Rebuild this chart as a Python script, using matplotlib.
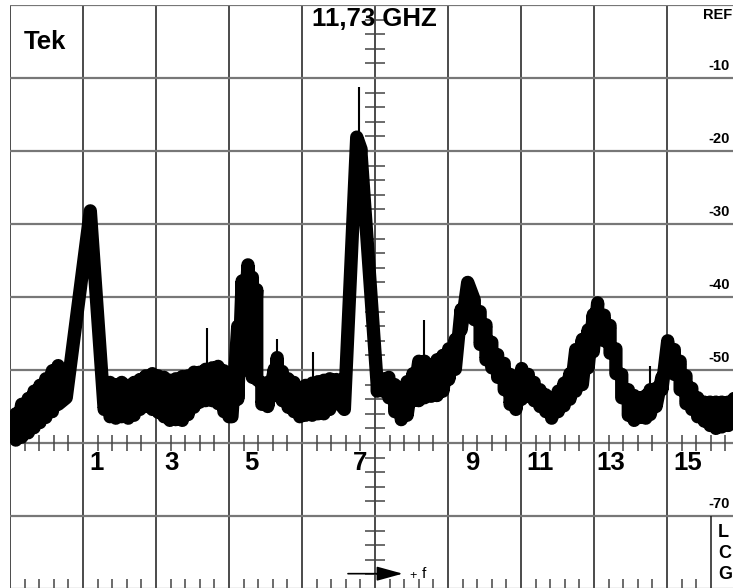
import matplotlib
matplotlib.use("Agg")
import matplotlib.pyplot as plt
import numpy as np

plt.rcParams['font.family'] = ['Liberation Sans', 'DejaVu Sans']

# trace: x in graticule divisions (0..10),
# y in dB below REF. top/bot are the pen centre envelope at each x
trace_x = [0.08, 0.16, 0.25, 0.33, 0.41, 0.49, 0.58, 0.66, 0.77, 1.10, 1.29,
           1.37, 1.45, 1.53, 1.62, 1.70, 1.78, 1.86, 1.95, 2.03, 2.11, 2.19,
           2.27, 2.36, 2.44, 2.52, 2.60, 2.68, 2.77, 2.85, 2.93, 3.00,
           3.04, 3.12, 3.18, 3.26, 3.32, 3.38, 3.45,
           3.53, 3.62, 3.66, 3.73, 3.81, 3.89, 3.97, 4.05, 4.14, 4.22, 4.30,
           4.38, 4.47,
           4.58, 4.75, 4.81, 5.03,
           5.11, 5.19, 5.27, 5.36, 5.44, 5.52, 5.60, 5.68, 5.77, 5.85, 5.93,
           6.01, 6.10, 6.18, 6.27, 6.36, 6.44, 6.52, 6.60, 6.68, 6.77, 6.85,
           6.93, 7.01, 7.10, 7.18, 7.26, 7.34, 7.42, 7.51, 7.59, 7.67, 7.75,
           7.84, 7.92, 7.99, 8.05, 8.14, 8.22, 8.30, 8.38, 8.47, 8.55, 8.63,
           8.71, 8.77, 8.85, 8.93, 9.01, 9.10, 9.18, 9.26, 9.34, 9.42, 9.51,
           9.59, 9.67, 9.75, 9.84, 9.92]
trace_top = [-56.0, -54.7, -53.9, -52.9, -52.1, -51.2, -50.1, -49.4, -53.8, -28.2, -55.4,
             -51.7, -52.0, -51.7, -52.1, -51.7, -51.3, -50.8, -50.5, -50.8, -51.0, -51.4,
             -51.2, -50.9, -50.8, -50.3, -50.3, -49.9, -49.7, -49.5, -50.1, -50.8,
             -56.4, -44.0, -37.8, -35.6, -37.3, -39.0, -51.8,
             -51.7, -49.9, -48.3, -50.2, -51.2, -51.7, -52.5, -52.1, -51.8, -51.6, -51.4,
             -51.2, -51.3,
             -55.4, -18.1, -19.8, -52.0,
             -51.2, -51.0, -52.0, -52.7, -51.6, -50.5, -48.8, -48.8, -49.4, -48.6, -48.0,
             -47.1, -45.8, -41.7, -38.0, -40.4, -42.0, -43.8, -46.2, -47.9, -49.1, -50.6,
             -51.0, -49.8, -50.6, -51.7, -52.7, -53.4, -53.8, -52.9, -51.8, -50.5, -47.2,
             -45.8, -44.5, -42.4, -40.8, -42.5, -43.9, -47.1, -50.6, -52.7, -53.5, -53.8,
             -53.5, -52.7, -52.5, -51.0, -46.0, -47.2, -48.8, -50.8, -52.5, -53.8, -54.4,
             -54.4, -54.4, -54.4, -54.4, -53.8]
trace_bot = [-59.6, -59.2, -58.6, -57.9, -57.2, -56.5, -55.7, -54.7, -53.8, -28.2, -55.4,
             -56.4, -56.6, -56.4, -56.6, -56.2, -55.4, -55.0, -55.4, -55.8, -56.4, -56.9,
             -56.8, -56.9, -56.1, -55.1, -54.4, -54.2, -54.2, -54.6, -55.7, -56.4,
             -56.4, -54.0, -50.0, -50.0, -51.0, -51.3, -54.7,
             -55.0, -53.5, -53.2, -54.2, -55.1, -55.7, -56.4, -56.2, -56.2, -56.0, -56.0,
             -55.4, -54.0,
             -55.4, -18.1, -20.5, -52.9,
             -52.9, -53.8, -55.7, -56.8, -56.2, -54.2, -54.2, -53.8, -53.6, -53.5, -52.9,
             -51.3, -49.9, -44.5, -38.0, -43.1, -46.5, -48.6, -49.7, -51.0, -52.7, -54.7,
             -55.4, -54.0, -53.6, -54.2, -55.0, -55.7, -56.6, -55.7, -54.9, -54.0, -52.9,
             -52.0, -49.7, -47.5, -45.1, -46.0, -47.7, -50.5, -53.8, -56.2, -56.9, -56.5,
             -56.6, -56.1, -55.0, -52.7, -49.9, -50.6, -52.7, -54.6, -55.4, -56.4, -57.0,
             -57.6, -58.0, -57.8, -57.6, -57.3]

# thin spikes sticking out of the trace
spike_x = [2.70, 3.66, 4.15, 4.78, 5.67, 8.77]
spike_top = [-44.3, -45.8, -47.6, -11.2, -43.1, -49.5]
spike_base = [-50.0, -49.0, -52.0, -18.0, -49.0, -53.0]

freq_labels = ['1', '3', '5', '7', '9', '11', '13', '15']
freq_label_x = [1.18, 2.21, 3.30, 4.79, 6.33, 7.26, 8.23, 9.29]

ref_labels = ['-10', '-20', '-30', '-40', '-50', '-70']
ref_label_db = [-10, -20, -30, -40, -50, -70]

box_letters = ['L', 'C', 'G']
box_letter_db = [-72.3, -75.2, -78.0]

fig = plt.figure(figsize=(7.33, 5.88), dpi=100)
# graticule runs from x=10px to 740px and y=5px to 589px
ax = fig.add_axes([10 / 733, 1 - 589 / 588, 730 / 733, 584 / 588])
ax.set_xlim(0, 10)
ax.set_ylim(-80, 0)
ax.axis('off')

# graticule
for i in range(11):
    ax.axvline(i, color='#1a1a1a', lw=1.1, zorder=1)
for j in range(0, -90, -10):
    ax.axhline(j, color='#777777', lw=1.6, zorder=1)

minor_x = [k * 0.2 for k in range(51) if k % 5]
ax.vlines(minor_x, -61.1, -58.9, color='#444444', lw=1.1, zorder=1)
ax.vlines([x for x in minor_x if x < 9.6], -81.4, -78.6, color='#444444', lw=1.1, zorder=1)
minor_y = [-k * 2 for k in range(41) if k % 5]
ax.hlines(minor_y, 4.863, 5.137, color='#444444', lw=1.1, zorder=1)

# trace: fat pen zigzagging between the envelope values
xs, ys = [], []
for x, t, b in zip(trace_x, trace_top, trace_bot):
    xs.append(x)
    ys.append(t)
    if b != t:
        xs.append(x)
        ys.append(b)
ax.plot(xs, ys, color='black', lw=9.6, solid_capstyle='round',
        solid_joinstyle='round', zorder=5)
ax.vlines(spike_x, spike_base, spike_top, color='black', lw=1.5, zorder=5)

# texts
ax.text(0.48, -5.1, 'Tek', fontsize=18.5, fontweight='bold', ha='center', va='center')
ax.text(4.99, -1.9, '11,73 GHZ', fontsize=18.5, fontweight='bold', ha='center',
        va='center', zorder=6)
for lab, x in zip(freq_labels, freq_label_x):
    ax.text(x, -62.7, lab, fontsize=18.5, fontweight='bold', ha='center', va='center')

ax.text(9.49, -1.4, 'REF', fontsize=10.5, fontweight='bold', ha='left', va='center')
for lab, db in zip(ref_labels, ref_label_db):
    ax.text(9.57, db + 1.6, lab, fontsize=10.5, fontweight='bold', ha='left', va='center')

# readout box in the lower right corner
ax.vlines(9.6, -80, -70, color='#1a1a1a', lw=1.1, zorder=1)
for lab, db in zip(box_letters, box_letter_db):
    ax.text(9.70, db, lab, fontsize=13, fontweight='bold', ha='left', va='center')

# +f direction arrow
ax.annotate('', xy=(5.38, -77.9), xytext=(4.63, -77.9),
            arrowprops=dict(arrowstyle='-|>,head_length=0.8,head_width=0.22',
                            color='black', lw=1.2, shrinkA=0, shrinkB=0,
                            mutation_scale=20))
ax.text(5.52, -78.2, '+', fontsize=9, ha='center', va='center')
ax.text(5.67, -77.9, 'f', fontsize=11, ha='center', va='center')

fig.savefig('out.png', dpi=100)
